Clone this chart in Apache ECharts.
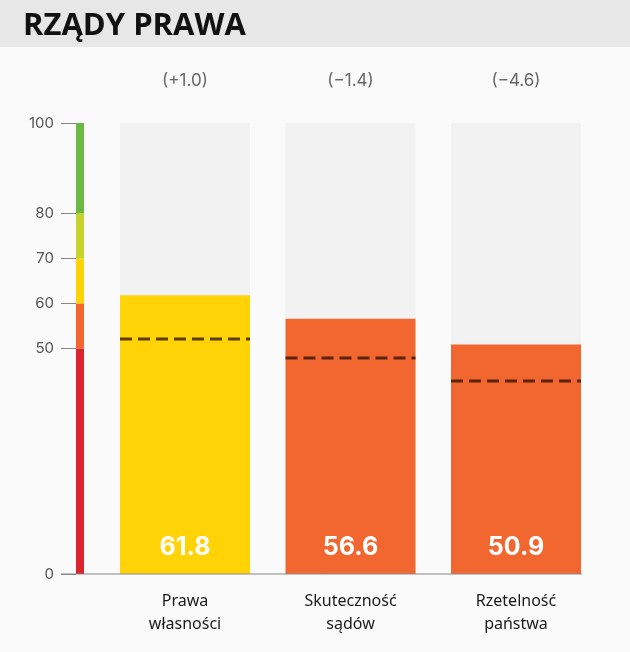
<!DOCTYPE html>
<html>
<head>
<meta charset="utf-8">
<script src="https://cdn.jsdelivr.net/npm/echarts@6/dist/echarts.min.js"></script>
<style>html,body{margin:0;padding:0;background:#fafafa;}#c{width:630px;height:652px;}</style>
</head>
<body>
<div id="c"></div>
<script>
const categories = ['Prawa\nwłasności', 'Skuteczność\nsądów', 'Rzetelność\npaństwa'];
const values = [61.8, 56.6, 50.9];
const changes = ['(+1.0)', '(−1.4)', '(−4.6)'];
const benchmarks = [52.1, 47.9, 42.8];
const scaleBands = [50, 10, 10, 10, 20];           // 0-50, 50-60, 60-70, 70-80, 80-100
const scaleColors = ['#DC2430', '#F26630', '#FFD306', '#C5D32C', '#6DB843'];
const yTicks = [0, 50, 60, 70, 80, 100];

// bar colour by scale band
function bandColor(v) {
  let acc = 0;
  for (let i = 0; i < scaleBands.length; i++) {
    acc += scaleBands[i];
    if (v < acc) return scaleColors[i];
  }
  return scaleColors[scaleColors.length - 1];
}

const BAR_W = 130;
const chart = echarts.init(document.getElementById('c'));
const font = 'Inter, "Noto Sans", sans-serif';

const option = {
  backgroundColor: '#fafafa',
  animation: false,
  title: {
    text: 'RZĄDY PRAWA', left: 18, top: 6,
    textStyle: { fontFamily: '"Open Sans", sans-serif', fontWeight: 'bold', fontSize: 31, color: '#111' }
  },
  graphic: [
    { type: 'rect', left: 0, top: 0, z: -10, shape: { width: 630, height: 47 }, style: { fill: '#e7e7e7' } }
  ],
  grid: [
    { left: 76, width: 8, top: 123, height: 451 },
    { left: 102.25, width: 496.5, top: 123, height: 451 }
  ],
  xAxis: [
    { gridIndex: 0, type: 'category', data: [''], show: false },
    {
      gridIndex: 1, type: 'category', data: categories,
      axisLine: { show: false }, axisTick: { show: false },
      axisLabel: { margin: 16, fontFamily: '"Noto Sans", sans-serif', fontSize: 16, color: '#1a1a1a', lineHeight: 23 }
    }
  ],
  yAxis: [
    {
      gridIndex: 0, type: 'value', min: 0, max: 100,
      axisLine: { show: false }, splitLine: { show: false },
      axisTick: { show: true, length: 15, customValues: yTicks, lineStyle: { color: '#888' } },
      axisLabel: { customValues: yTicks, margin: 22, fontFamily: font, fontSize: 15, color: '#555' }
    },
    {
      gridIndex: 1, type: 'value', min: 0, max: 100, show: false
    }
  ],
  series: [
    ...scaleBands.map((b, i) => ({
      type: 'bar', xAxisIndex: 0, yAxisIndex: 0, stack: 'scale', barWidth: '100%',
      data: [b], itemStyle: { color: scaleColors[i] }, silent: true
    })),
    {
      type: 'bar', xAxisIndex: 1, yAxisIndex: 1, barWidth: BAR_W, barGap: '-100%',
      data: categories.map(() => 100), itemStyle: { color: '#f2f2f2' },
      label: {
        show: true, position: 'top', distance: 34,
        formatter: p => changes[p.dataIndex],
        fontFamily: font, fontSize: 17, color: '#666'
      }
    },
    {
      type: 'bar', xAxisIndex: 1, yAxisIndex: 1, barWidth: BAR_W, barGap: '-100%',
      data: values.map(v => ({ value: v, itemStyle: { color: bandColor(v) } })),
      label: {
        show: true, position: 'insideBottom', distance: 14,
        formatter: p => p.value.toFixed(1),
        fontFamily: font, fontWeight: 'bold', fontSize: 25, color: '#fff'
      }
    },
    {
      type: 'custom', xAxisIndex: 1, yAxisIndex: 1, z: 10,
      data: benchmarks.map((v, i) => [i, v]),
      renderItem: function (params, api) {
        const p = api.coord([api.value(0), api.value(1)]);
        return {
          type: 'line',
          shape: { x1: p[0] - BAR_W / 2, y1: p[1], x2: p[0] + BAR_W / 2, y2: p[1] },
          style: { stroke: 'rgba(50,18,0,0.78)', lineWidth: 3, lineDash: [12, 6] }
        };
      }
    }
  ]
};
chart.setOption(option);

// baseline from the tick start to the end of the last bar, at value 0
const y0 = chart.convertToPixel({ yAxisIndex: 0 }, 0);
const xEnd = chart.convertToPixel({ xAxisIndex: 1 }, categories.length - 1) + BAR_W / 2;
chart.setOption({
  graphic: [
    { type: 'rect', left: 0, top: 0, z: -10, shape: { width: 630, height: 47 }, style: { fill: '#e7e7e7' } },
    { type: 'line', z: 20, shape: { x1: 76 - 15, y1: y0, x2: xEnd + 1, y2: y0 }, style: { stroke: '#888', lineWidth: 1 } }
  ]
});
</script>
</body>
</html>
